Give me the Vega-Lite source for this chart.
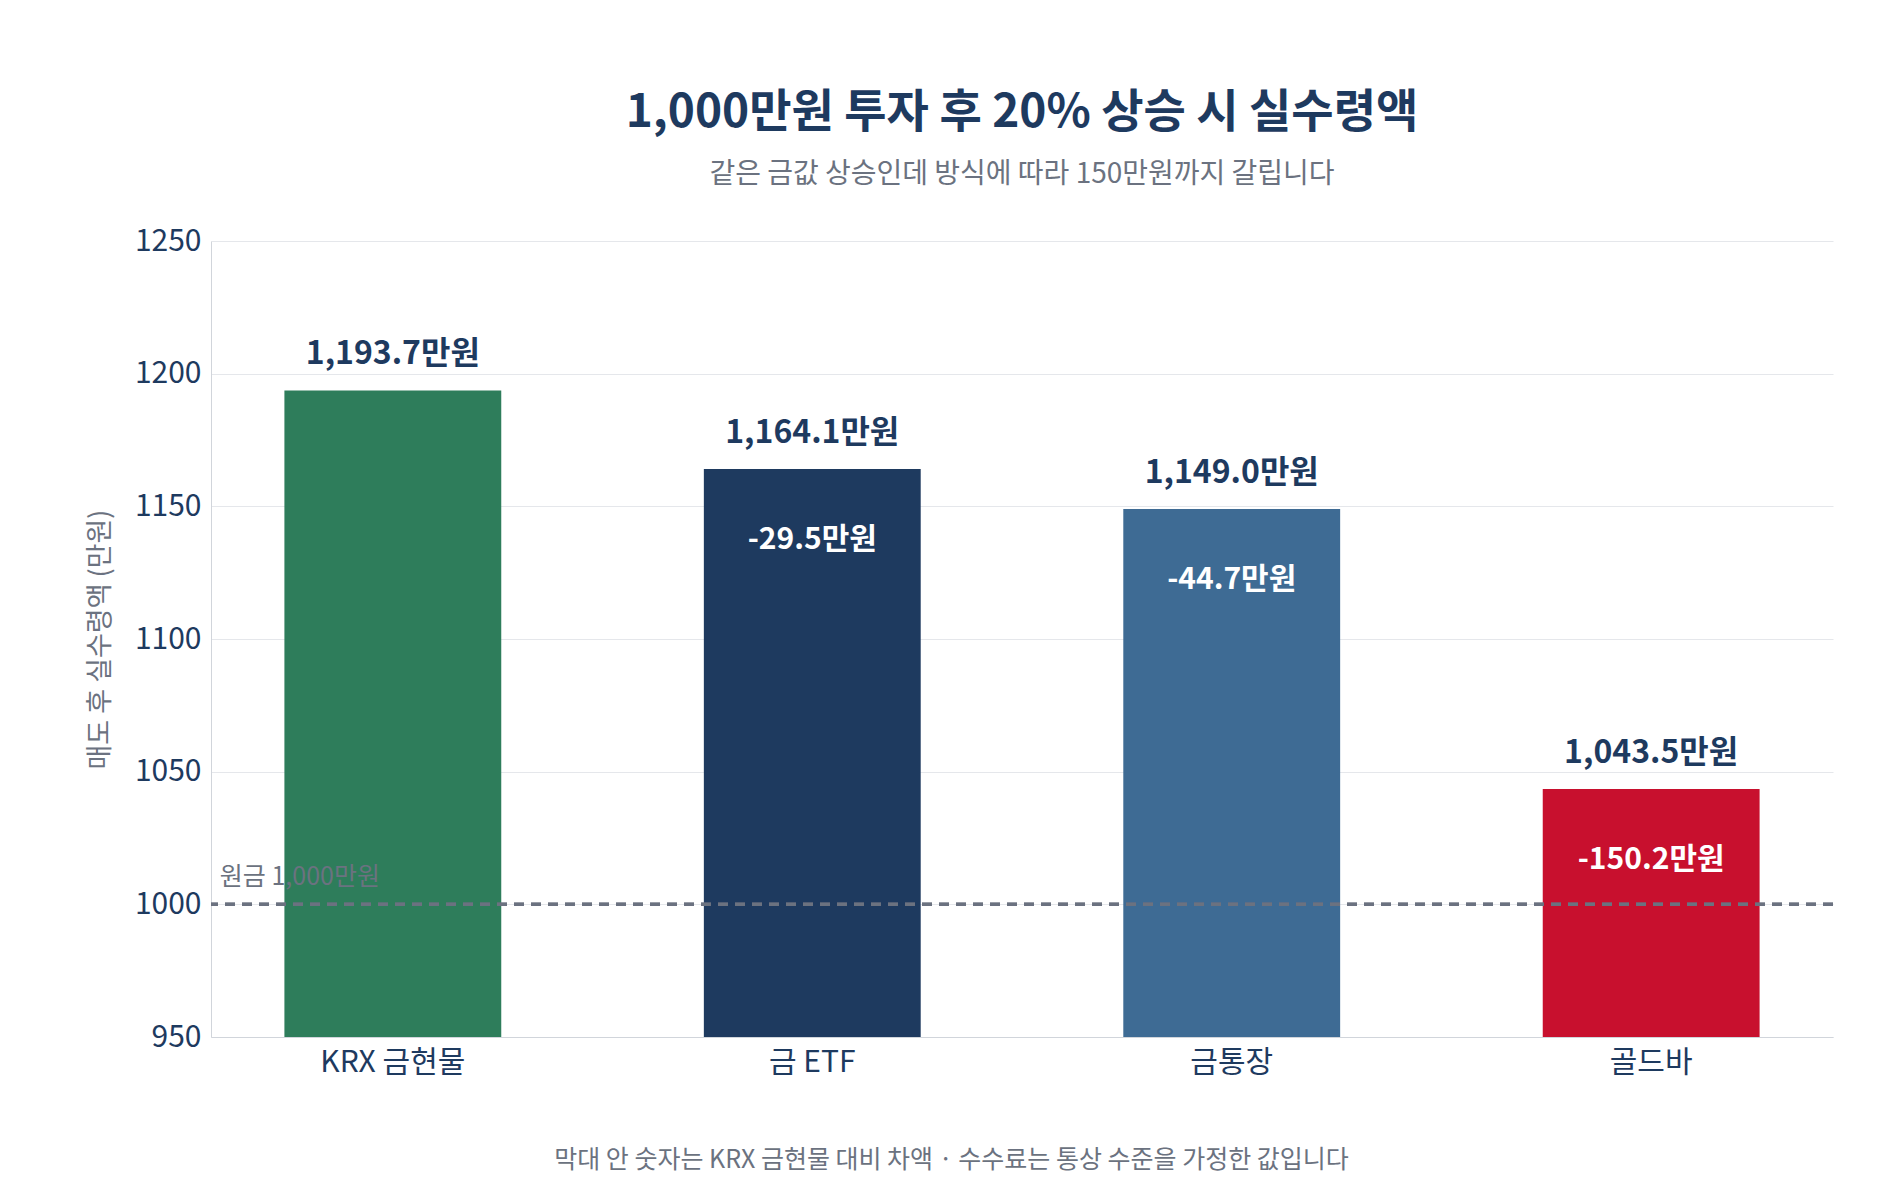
{
  "$schema": "https://vega.github.io/schema/vega-lite/v6.json",
  "autosize": "none",
  "width": 1622,
  "height": 796,
  "padding": {"left": 211, "top": 241, "right": 67, "bottom": 163},
  "background": "white",
  "title": {
    "text": "1,000만원 투자 후 20% 상승 시 실수령액",
    "subtitle": "같은 금값 상승인데 방식에 따라 150만원까지 갈립니다",
    "font": "Noto Sans CJK KR",
    "subtitleFont": "Noto Sans CJK KR",
    "fontSize": 46,
    "fontWeight": "bold",
    "color": "#1e3a5f",
    "subtitleFontSize": 28,
    "subtitleColor": "#6b7280",
    "subtitlePadding": 24,
    "offset": 36,
    "anchor": "middle"
  },
  "data": {
    "values": [
      {"name": "KRX 금현물", "value": 1193.7, "label": "1,193.7만원", "diff": ""},
      {"name": "금 ETF", "value": 1164.1, "label": "1,164.1만원", "diff": "-29.5만원"},
      {"name": "금통장", "value": 1149.0, "label": "1,149.0만원", "diff": "-44.7만원"},
      {"name": "골드바", "value": 1043.5, "label": "1,043.5만원", "diff": "-150.2만원"}
    ]
  },
  "encoding": {
    "x": {
      "field": "name", "type": "nominal", "sort": null,
      "scale": {"paddingInner": 0.483, "paddingOuter": 0.175},
      "axis": {
        "title": "막대 안 숫자는 KRX 금현물 대비 차액 · 수수료는 통상 수준을 가정한 값입니다",
        "titleFont": "Noto Sans CJK KR", "titleFontSize": 25, "titleFontWeight": "normal",
        "titleColor": "#6b7280", "titlePadding": 70, "titleX": 740,
        "labelFont": "Noto Sans CJK KR", "labelFontSize": 30, "labelColor": "#1e3a5f",
        "labelAngle": 0, "labelPadding": 10, "ticks": false, "domainColor": "#d1d5db"
      }
    }
  },
  "layer": [
    {
      "mark": {"type": "bar", "clip": true},
      "encoding": {
        "y": {
          "field": "value", "type": "quantitative",
          "scale": {"domain": [950, 1250], "zero": false, "nice": false},
          "axis": {
            "title": "매도 후 실수령액 (만원)", "values": [950, 1000, 1050, 1100, 1150, 1200, 1250], "format": "d",
            "titleFont": "Noto Sans CJK KR", "titleFontSize": 27, "titleFontWeight": "normal",
            "titleColor": "#6b7280", "titlePadding": 20,
            "labelFont": "Noto Sans CJK KR", "labelFontSize": 30, "labelColor": "#1e3a5f",
            "ticks": false, "labelPadding": 10, "gridColor": "#e5e7eb", "domainColor": "#d1d5db"
          }
        },
        "y2": {"datum": 950},
        "color": {
          "field": "name", "type": "nominal", "sort": null, "legend": null,
          "scale": {"range": ["#2e7d5b", "#1e3a5f", "#3e6b94", "#c8102e"]}
        }
      }
    },
    {
      "mark": {"type": "rule", "strokeDash": [10, 7], "strokeWidth": 3, "color": "#6b7280"},
      "encoding": {"y": {"datum": 1000}, "x": null}
    },
    {
      "mark": {"type": "text", "dy": -36, "font": "Noto Sans CJK KR", "fontSize": 32, "fontWeight": "bold", "color": "#1e3a5f"},
      "encoding": {"y": {"field": "value", "type": "quantitative"}, "text": {"field": "label"}}
    },
    {
      "mark": {"type": "text", "dy": 71, "font": "Noto Sans CJK KR", "fontSize": 30, "fontWeight": "bold", "color": "white"},
      "encoding": {"y": {"field": "value", "type": "quantitative"}, "text": {"field": "diff"}}
    },
    {
      "data": {"values": [{"name": "KRX 금현물", "t": "원금 1,000만원"}]},
      "mark": {"type": "text", "align": "left", "dx": -173, "dy": -27, "font": "Noto Sans CJK KR", "fontSize": 25, "color": "#6b7280"},
      "encoding": {"y": {"datum": 1000}, "text": {"field": "t"}}
    }
  ],
  "config": {"view": {"stroke": null}}
}
